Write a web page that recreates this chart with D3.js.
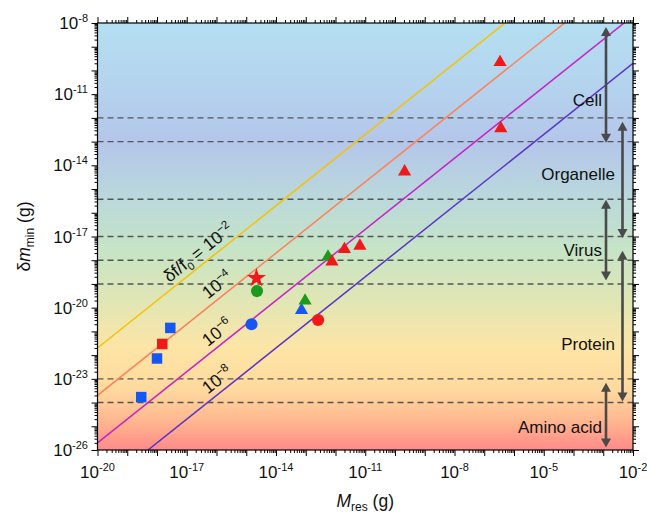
<!DOCTYPE html>
<html>
<head>
<meta charset="utf-8">
<script src="https://cdn.jsdelivr.net/npm/d3@7"></script>
<style>
body { margin: 0; background: #fff; }
text { font-family: "Liberation Sans", Arial, sans-serif; fill: #111; }
</style>
</head>
<body>
<div id="chart"></div>
<script>
var width = 647, height = 515;
var plotLeft = 97.5, plotRight = 633, plotTop = 23, plotBottom = 450;

// data points [M_res (g), dm_min (g)]
var blueSquares = [[2.95e-19, 1.7e-24], [1.0e-18, 7.2e-23], [2.8e-18, 1.4e-21]];
var redSquares = [[1.5e-18, 2.95e-22]];
var blueCircles = [[1.5e-15, 2.0e-21]];
var greenCircles = [[2.3e-15, 5.0e-20]];
var redCircles = [[2.6e-13, 3.0e-21]];
var redStars = [[2.2e-15, 1.75e-19]];
var blueTriangles = [[7.2e-14, 7.9e-21]];
var greenTriangles = [[9.5e-14, 1.95e-20], [5.6e-13, 1.4e-18]];
var redTriangles = [[7.6e-13, 8.7e-19], [2.0e-12, 2.9e-18], [6.6e-12, 4.0e-18],
                    [2.1e-10, 5.4e-15], [3.6e-7, 3.6e-13], [3.4e-7, 2.2e-10]];

// resolution lines dm = 2 * M * df/f0
var ratios = [1e-2, 1e-4, 1e-6, 1e-8];
var ratioLabels = ["δf/f0 = 10−2", "10−4", "10−6", "10−8"];
var ratioLabelM = [4.3e-17, 1.86e-16, 1.86e-16, 1.86e-16];
var ratioColors = ["#f6c200", "#ff8058", "#c624c6", "#5a34c8"];

// dashed boundaries
var dashLevels = [1e-12, 1e-13, 3.7e-16, 1e-17, 1e-18, 1e-19, 1e-23, 1e-24];

// size ranges
var rangeNames = ["Cell", "Organelle", "Virus", "Protein", "Amino acid"];
var rangeTop = [6.8e-9, 6.9e-13, 3.5e-16, 2.5e-18, 6.9e-24];
var rangeBottom = [8.9e-14, 8.7e-18, 1.4e-19, 1.1e-24, 1.26e-26];
var rangeLabelY = [5.6e-12, 4.3e-15, 2.7e-18, 2.95e-22, 9.3e-26];
var rangeLane = [0, 1, 0, 1, 0];

var xLabelExps = [-20, -17, -14, -11, -8, -5, -2];
var yLabelExps = [-8, -11, -14, -17, -20, -23, -26];

var x = d3.scaleLog().domain([1e-20, 1e-2]).range([plotLeft, plotRight]);
var y = d3.scaleLog().domain([1e-26, 1e-8]).range([plotBottom, plotTop]);

var svg = d3.select("#chart").append("svg")
    .attr("width", width)
    .attr("height", height);

var defs = svg.append("defs");
var grad = defs.append("linearGradient")
    .attr("id", "bg")
    .attr("x1", 0).attr("y1", 0).attr("x2", 0).attr("y2", 1);
[[0, "#b4dff1"], [0.14, "#b4d4ee"], [0.28, "#b4c6ea"], [0.4, "#b9d7dc"],
 [0.53, "#c6e4c6"], [0.64, "#dee6b6"], [0.76, "#fde5a6"], [0.86, "#ffd99e"],
 [0.93, "#ffb890"], [1, "#ff8a88"]].forEach(function(s){
    grad.append("stop").attr("offset", s[0]).attr("stop-color", s[1]);
});

defs.append("clipPath").attr("id", "clip")
    .append("rect")
    .attr("x", plotLeft).attr("y", plotTop)
    .attr("width", plotRight - plotLeft).attr("height", plotBottom - plotTop);

svg.append("rect")
    .attr("x", plotLeft).attr("y", plotTop)
    .attr("width", plotRight - plotLeft).attr("height", plotBottom - plotTop)
    .attr("fill", "url(#bg)");

// dashed lines
svg.append("g").selectAll("line")
    .data(dashLevels)
    .enter().append("line")
    .attr("x1", plotLeft).attr("x2", plotRight)
    .attr("y1", d => y(d)).attr("y2", d => y(d))
    .attr("stroke", "#555")
    .attr("stroke-width", 1.4)
    .attr("stroke-dasharray", "6,4");

// resolution lines
var lineG = svg.append("g").attr("clip-path", "url(#clip)");
ratios.forEach(function(r, i){
    var m0 = 1e-20, m1 = 1e-2;
    lineG.append("line")
        .attr("x1", x(m0)).attr("y1", y(2 * m0 * r))
        .attr("x2", x(m1)).attr("y2", y(2 * m1 * r))
        .attr("stroke", ratioColors[i])
        .attr("stroke-width", 1.5);
});

var angle = Math.atan2(y(1e-20) - y(1e-19), x(1e-19) - x(1e-20)) * 180 / Math.PI;

ratios.forEach(function(r, i){
    var mx = ratioLabelM[i];
    var t = svg.append("text")
        .attr("transform", "translate(" + x(mx) + "," + y(2 * mx * r) + ") rotate(" + (-angle) + ")")
        .attr("text-anchor", "middle")
        .attr("dy", -6)
        .style("font-size", "17.5px");
    var lab = ratioLabels[i];
    var exp = lab.slice(lab.lastIndexOf("10") + 2);
    if(i == 0){
        t.append("tspan").text("δf/f");
        t.append("tspan").attr("dy", 4).style("font-size", "11px").text("0");
        t.append("tspan").attr("dy", -4).text(" = 10");
    } else {
        t.append("tspan").text("10");
    }
    t.append("tspan").attr("dy", -7).style("font-size", "11.5px").text(exp);
});

// range arrows
var arrowColor = "#4a4a4a";
var laneX = [606, 622.5];
var ag = svg.append("g");
rangeNames.forEach(function(name, i){
    var ax = laneX[rangeLane[i]];
    var y0 = y(rangeTop[i]), y1 = y(rangeBottom[i]);
    var hl = 9, hw = 5;
    ag.append("line")
        .attr("x1", ax).attr("x2", ax)
        .attr("y1", y0 + hl - 1).attr("y2", y1 - hl + 1)
        .attr("stroke", arrowColor).attr("stroke-width", 2.6);
    ag.append("path")
        .attr("d", "M" + ax + "," + y0 + "L" + (ax - hw) + "," + (y0 + hl) + "L" + (ax + hw) + "," + (y0 + hl) + "Z")
        .attr("fill", arrowColor);
    ag.append("path")
        .attr("d", "M" + ax + "," + y1 + "L" + (ax - hw) + "," + (y1 - hl) + "L" + (ax + hw) + "," + (y1 - hl) + "Z")
        .attr("fill", arrowColor);
    ag.append("text")
        .attr("x", rangeLane[i] == 0 ? 602 : 615)
        .attr("y", y(rangeLabelY[i]))
        .attr("dy", "0.35em")
        .attr("text-anchor", "end")
        .style("font-size", "17px")
        .text(name);
});

// markers
var markerSeries = [
    {data: blueSquares, type: d3.symbolSquare, size: 110, color: "#1656f2"},
    {data: redSquares, type: d3.symbolSquare, size: 110, color: "#f01818"},
    {data: blueCircles, type: d3.symbolCircle, size: 115, color: "#1656f2"},
    {data: greenCircles, type: d3.symbolCircle, size: 115, color: "#1c9a1c"},
    {data: redCircles, type: d3.symbolCircle, size: 115, color: "#f01818"},
    {data: redStars, type: d3.symbolStar, size: 115, color: "#f01818"},
    {data: blueTriangles, type: d3.symbolTriangle, size: 75, color: "#1656f2"},
    {data: greenTriangles, type: d3.symbolTriangle, size: 75, color: "#1c9a1c"},
    {data: redTriangles, type: d3.symbolTriangle, size: 75, color: "#f01818"}
];
var mg = svg.append("g");
markerSeries.forEach(function(s){
    mg.selectAll(null)
        .data(s.data)
        .enter().append("path")
        .attr("transform", d => "translate(" + x(d[0]) + "," + y(d[1]) + ")")
        .attr("d", d3.symbol().type(s.type).size(s.size))
        .attr("fill", s.color);
});

// axes ticks
var xMajor = d3.range(-20, -1).map(k => Math.pow(10, k));
var yMajor = d3.range(-26, -7).map(k => Math.pow(10, k));
function minors(lo, hi){
    var out = [];
    for(var k = lo; k < hi; k++)
        for(var j = 2; j < 10; j++) out.push(j * Math.pow(10, k));
    return out;
}
var xMinor = minors(-20, -2), yMinor = minors(-26, -8);

function addAxis(axisFn, scale, pos, major, minor){
    var g1 = svg.append("g").attr("transform", pos)
        .call(axisFn(scale).tickValues(major).tickSize(6).tickFormat(""));
    var g2 = svg.append("g").attr("transform", pos)
        .call(axisFn(scale).tickValues(minor).tickSize(3).tickFormat(""));
    [g1, g2].forEach(function(g){
        g.select(".domain").remove();
        g.selectAll("line").attr("stroke", "#000").attr("stroke-width", 1);
    });
}
addAxis(d3.axisBottom, x, "translate(0," + plotBottom + ")", xMajor, xMinor);
addAxis(d3.axisTop, x, "translate(0," + plotTop + ")", xMajor, xMinor);
addAxis(d3.axisLeft, y, "translate(" + plotLeft + ",0)", yMajor, yMinor);
addAxis(d3.axisRight, y, "translate(" + plotRight + ",0)", yMajor, yMinor);

svg.append("rect")
    .attr("x", plotLeft).attr("y", plotTop)
    .attr("width", plotRight - plotLeft).attr("height", plotBottom - plotTop)
    .attr("fill", "none")
    .attr("stroke", "#000")
    .attr("stroke-width", 1.2);

// tick labels
svg.append("g").selectAll("text")
    .data(xLabelExps)
    .enter().append("text")
    .attr("x", d => x(Math.pow(10, d)))
    .attr("y", 478)
    .attr("text-anchor", "middle")
    .style("font-size", "17px")
    .each(function(d){
        var t = d3.select(this);
        t.append("tspan").text("10");
        t.append("tspan").attr("dy", -7).style("font-size", "11px").text("-" + (-d));
    });

svg.append("g").selectAll("text")
    .data(yLabelExps)
    .enter().append("text")
    .attr("x", 88)
    .attr("y", d => y(Math.pow(10, d)) + 6)
    .attr("text-anchor", "end")
    .style("font-size", "17px")
    .each(function(d){
        var t = d3.select(this);
        t.append("tspan").text("10");
        t.append("tspan").attr("dy", -7).style("font-size", "11px").text("-" + (-d));
    });

// axis titles
var xt = svg.append("text")
    .attr("x", (plotLeft + plotRight) / 2)
    .attr("y", 507)
    .attr("text-anchor", "middle")
    .style("font-size", "17.5px");
xt.append("tspan").style("font-style", "italic").text("M");
xt.append("tspan").attr("dy", 4).style("font-size", "12px").text("res");
xt.append("tspan").attr("dy", -4).text(" (g)");

var yt = svg.append("text")
    .attr("transform", "translate(30," + (plotTop + plotBottom) / 2 + ") rotate(-90)")
    .attr("text-anchor", "middle")
    .style("font-size", "17.5px");
yt.append("tspan").text("δ");
yt.append("tspan").style("font-style", "italic").text("m");
yt.append("tspan").attr("dy", 4).style("font-size", "12px").text("min");
yt.append("tspan").attr("dy", -4).text(" (g)");
</script>
</body>
</html>
